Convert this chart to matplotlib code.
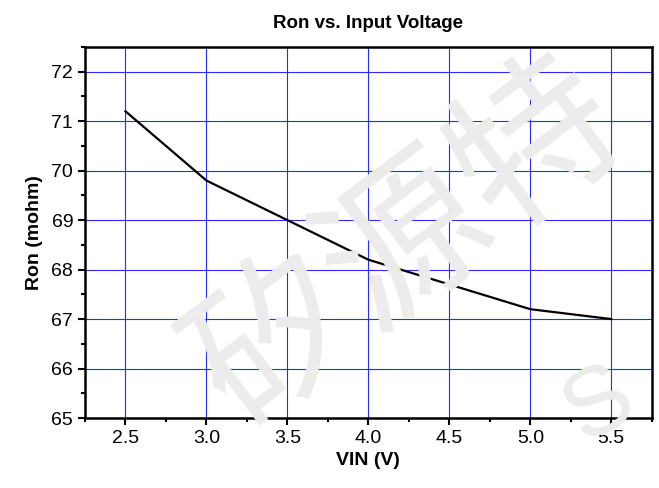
import matplotlib
matplotlib.use('Agg')
from matplotlib import pyplot as plt
from matplotlib.ticker import MultipleLocator, FormatStrFormatter

vin = [2.5, 3.0, 3.5, 4.0, 4.5, 5.0, 5.5]
ron = [71.2, 69.8, 69.0, 68.2, 67.7, 67.2, 67.0]
watermark = '矽源特'

plt.rcParams['font.family'] = ['Liberation Sans', 'Noto Sans CJK SC', 'DejaVu Sans']

fig = plt.figure(figsize=(6.59, 4.88), dpi=100)
ax = fig.add_axes([0.129, 0.1434, 0.86, 0.7603])

# faint watermark behind the plot
fig.text(0.62, 0.50, watermark, fontsize=118, color='#ececec', rotation=37,
         ha='center', va='center', family=['Noto Sans CJK SC'], zorder=0)
fig.text(0.91, 0.17, 'S', fontsize=70, color='#ececec', rotation=30,
         ha='center', va='center', zorder=0)
ax.set_facecolor('none')

ax.plot(vin, ron, color='black', lw=1.6, zorder=3)

ax.set_xlim(2.25, 5.75)
ax.set_ylim(65, 72.5)
ax.xaxis.set_major_locator(MultipleLocator(0.5))
ax.xaxis.set_minor_locator(MultipleLocator(0.25))
ax.yaxis.set_major_locator(MultipleLocator(1))
ax.yaxis.set_minor_locator(MultipleLocator(0.5))
ax.xaxis.set_major_formatter(FormatStrFormatter('%.1f'))

ax.grid(True, which='major', color='#2a2aff', lw=0.8)
ax.set_axisbelow(True)

for s in ax.spines.values():
    s.set_linewidth(1.8)
ax.tick_params(which='major', direction='out', length=5, width=1.5, labelsize=14)
ax.tick_params(which='minor', direction='out', length=3, width=1.5)

ax.set_title('Ron vs. Input Voltage', fontsize=13.5, fontweight='bold', pad=14)
ax.set_xlabel('VIN (V)', fontsize=14, fontweight='bold', labelpad=4)
ax.set_ylabel('Ron (mohm)', fontsize=14, fontweight='bold', labelpad=6)

fig.savefig('out.png', dpi=100)
